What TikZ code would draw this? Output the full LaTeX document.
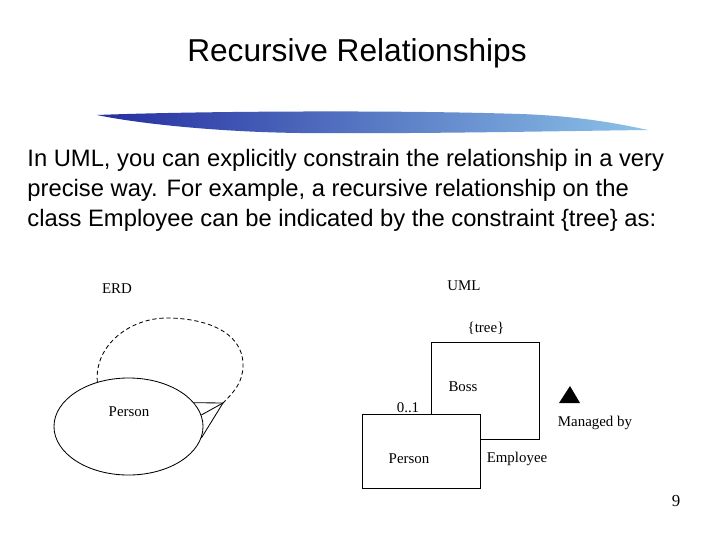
\documentclass[tikz,border=0pt]{standalone}
\usepackage{fontspec}
\setmainfont{Liberation Sans}
\newfontfamily\diagfont{Liberation Serif}
\usetikzlibrary{shapes.geometric}
\definecolor{brushdark}{RGB}{36,46,160}
\definecolor{brushmid}{RGB}{78,108,198}
\definecolor{brushlight}{RGB}{140,195,232}
\begin{document}
\begin{tikzpicture}[x=0.025cm, y=-0.025cm, line width=0.6pt,
	lbl/.style={font=\diagfont\fontsize{10.6}{12}\selectfont, inner sep=0pt},
	body/.style={font=\fontsize{16.9}{21}\selectfont, anchor=base west, inner sep=0pt},
	box/.style={draw, fill=white, rectangle, inner sep=0pt}]
	\useasboundingbox[fill=white] (0,0) rectangle (720,540);
	
	% Titel und Pinselstrich
	\node[font=\fontsize{22.5}{27}\selectfont, anchor=base, inner sep=0pt] (title) at (357,61) {Recursive Relationships};
	\shade[left color=brushdark, middle color=brushmid, right color=brushlight]
		(97,115) .. controls (200,111) and (400,110) .. (520,114)
		.. controls (580,116) and (620,124) .. (648,130)
		.. controls (560,131) and (420,134) .. (300,133)
		.. controls (220,132) and (140,124) .. (97,115) -- cycle;
	
	% Text
	\node[body] (line1) at (27,166) {In UML, you can explicitly constrain the relationship in a very};
	\node[body] (line2) at (27,196) {precise way. For example, a recursive relationship on the};
	\node[body] (line3) at (27,226) {class Employee can be indicated by the constraint \{tree\} as:};
	
	% ERD
	\node[lbl] (erd) at (117,289) {ERD};
	\node[draw, ellipse, minimum width=3.725cm, minimum height=2.425cm, inner sep=0pt] (person) at (128.5,426.5) {};
	\node[lbl] (personlbl) at (129,412) {Person};
	\coordinate (tip) at (223,403);
	\draw (person.20) -- (tip);
	\draw (person.9) -- (tip);
	\draw (person.-9) -- (tip);
	\draw[dash pattern=on 3pt off 2pt] (person.125) to[out=95, in=180] (167,318)
		to[out=0, in=90] (243,365) to[out=-90, in=45] (tip);
	
	% UML
	\node[lbl] (uml) at (464,286) {UML};
	\node[lbl] (tree) at (486,328) {\{tree\}};
	\node[box, minimum width=2.7cm, minimum height=2.425cm] (boss) at (485,390.5) {};
	\node[lbl] (bosslbl) at (463,387) {Boss};
	\node[box, minimum width=2.95cm, minimum height=1.85cm] (personbox) at (421,451) {};
	\node[lbl] (personboxlbl) at (409,459) {Person};
	\node[lbl] (mult) at (408,408) {0..1};
	\node[lbl] (employee) at (517,459) {Employee};
	\fill (559,403) -- (570,386) -- (580,403) -- cycle;
	\node[lbl] (managed) at (595,423) {Managed by};
	
	% Seitenzahl
	\node[lbl, font=\diagfont\fontsize{12}{14}\selectfont] (page) at (676,501) {9};
\end{tikzpicture}
\end{document}
